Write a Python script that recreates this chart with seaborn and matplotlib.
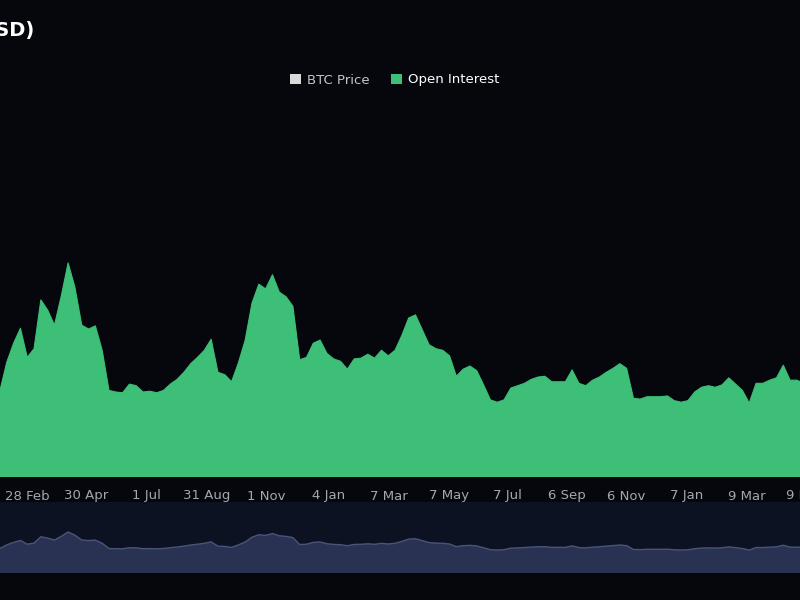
import pandas as pd
import matplotlib
matplotlib.use("Agg")
import matplotlib.pyplot as plt
from matplotlib.patches import Patch
import seaborn as sns

# weekly open interest, billions USD (starts 31 Jan 2021)
oi_start = "2021-01-31"
oi_values = [
    11.0, 14.6, 17.0, 18.9, 15.2, 16.3, 22.5, 21.2, 19.3, 23.0, 27.2, 24.1, 19.3, 18.8, 19.2, 16.1, 11.0, 10.8, 10.7, 11.8,
    11.6, 10.8, 10.9, 10.7, 11.0, 11.8, 12.4, 13.3, 14.4, 15.2, 16.1, 17.5, 13.3, 13.0, 12.1, 14.5, 17.4, 22.1, 24.5, 23.9,
    25.7, 23.5, 22.9, 21.7, 14.9, 15.2, 17.0, 17.4, 15.7, 15.0, 14.7, 13.7, 15.0, 15.1, 15.6, 15.1, 16.1, 15.4, 16.1, 18.0,
    20.2, 20.6, 18.7, 16.8, 16.3, 16.1, 15.4, 12.8, 13.7, 14.1, 13.5, 11.7, 9.8, 9.5, 9.8, 11.3, 11.6, 11.9, 12.4, 12.7,
    12.8, 12.1, 12.1, 12.1, 13.6, 11.9, 11.6, 12.3, 12.7, 13.3, 13.8, 14.4, 13.8, 10.0, 9.9, 10.2, 10.2, 10.2, 10.3, 9.7,
    9.5, 9.7, 10.8, 11.4, 11.6, 11.4, 11.7, 12.6, 11.8, 11.0, 9.4, 11.9, 11.9, 12.3, 12.6, 14.2, 12.3, 12.3, 11.9, 11.7,
    11.8, 12.0, 12.1,
]

tick_dates = ["2021-02-28", "2021-04-30", "2021-07-01", "2021-08-31", "2021-11-01", "2022-01-04", "2022-03-07",
              "2022-05-07", "2022-07-07", "2022-09-06", "2022-11-06", "2023-01-07", "2023-03-09", "2023-05-09"]
tick_labels = ["28 Feb", "30 Apr", "1 Jul", "31 Aug", "1 Nov", "4 Jan", "7 Mar",
               "7 May", "7 Jul", "6 Sep", "6 Nov", "7 Jan", "9 Mar", "9 May"]

legend_labels = ["BTC Price", "Open Interest"]
title = "Bitcoin Futures Open Interest (USD)"

bg = "#05070d"
green = "#3dbf78"
nav_bg = "#0c1222"
nav_fill = "#293252"
nav_line = "#4a5478"

sns.set_theme(style="dark", rc={"axes.facecolor": bg, "figure.facecolor": bg})
plt.rcParams["font.family"] = ["DejaVu Sans"]

df = pd.DataFrame({
    "date": pd.date_range(oi_start, periods=len(oi_values), freq="7D"),
    "oi": oi_values,
})
x_end = pd.Timestamp("2023-06-03")

fig = plt.figure(figsize=(8, 6), dpi=100)
fig.patch.set_facecolor(bg)

# main chart (runs off the right edge like the cropped screenshot)
ax = fig.add_axes([0, 123 / 600, 830 / 800, 377 / 600])
ax.set_facecolor(bg)
ax.fill_between(df["date"], 0, df["oi"], color=green, linewidth=0)
sns.lineplot(data=df, x="date", y="oi", ax=ax, color=green, linewidth=0.8)
ax.set_xlim(df["date"].iloc[0], x_end)
ax.set_ylim(0, 47.9)
ax.set_xticks(pd.to_datetime(tick_dates))
ax.set_xticklabels(tick_labels)
ax.tick_params(axis="x", length=0, pad=9, colors="#a3a7b0", labelsize=9.5)
ax.set_yticks([])
ax.set_xlabel("")
ax.set_ylabel("")
for s in ax.spines.values():
    s.set_visible(False)

# navigator strip
nav = fig.add_axes([0, 27 / 600, 830 / 800, 71 / 600])
nav.set_facecolor(nav_bg)
nav.fill_between(df["date"], -13.1, df["oi"], color=nav_fill, linewidth=0)
sns.lineplot(data=df, x="date", y="oi", ax=nav, color=nav_line, linewidth=1.0)
nav.set_xlim(df["date"].iloc[0], x_end)
nav.set_ylim(-13.1, 56.7)
nav.set_xticks([])
nav.set_yticks([])
nav.set_xlabel("")
nav.set_ylabel("")
for s in nav.spines.values():
    s.set_visible(False)

handles = [Patch(facecolor="#d9d9d9", edgecolor="none", label=legend_labels[0]),
           Patch(facecolor=green, edgecolor="none", label=legend_labels[1])]
leg = fig.legend(handles=handles, loc="center", bbox_to_anchor=(395 / 800, 1 - 80 / 600), ncol=2,
                 frameon=False, fontsize=9.5, handlelength=0.8, handleheight=0.8,
                 handletextpad=0.5, columnspacing=1.6)
leg.get_texts()[0].set_color("#c2c4c8")
leg.get_texts()[1].set_color("#ffffff")

fig.text(34 / 800, 1 - 30 / 600, title, ha="right", va="center",
         fontsize=14, fontweight="bold", color="#ffffff")

fig.savefig("out.png", dpi=100, facecolor=bg)
